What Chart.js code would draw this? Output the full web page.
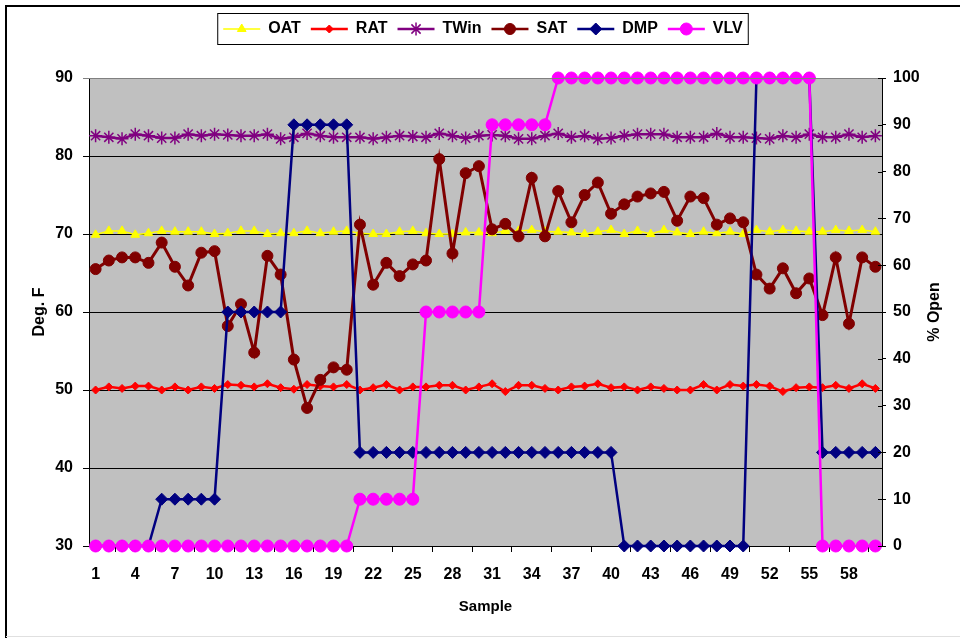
<!DOCTYPE html>
<html>
<head>
<meta charset="utf-8">
<script src="https://cdn.jsdelivr.net/npm/chart.js@4.4.0/dist/chart.umd.min.js"></script>
<style>
html, body { margin: 0; padding: 0; background: #fff; }
#wrap { width: 960px; height: 638px; }
</style>
</head>
<body>
<div id="wrap"><canvas id="myChart" width="960" height="638"></canvas></div>
<script>
// categories
const samples = ['1','2','3','4','5','6','7','8','9','10','11','12','13','14','15','16','17','18','19','20',
    '21','22','23','24','25','26','27','28','29','30','31','32','33','34','35','36','37','38','39','40',
    '41','42','43','44','45','46','47','48','49','50','51','52','53','54','55','56','57','58','59','60'];
const shownTicks = ['1','4','7','10','13','16','19','22','25','28','31','34','37','40','43','46','49','52','55','58'];

// temperatures (Deg. F, left axis)
const oat = [69.9,70.4,70.4,69.9,70.1,70.4,70.3,70.3,70.3,70.0, 70.1,70.4,70.4,70.0,70.1,70.1,70.4,70.1,70.3,70.4,
    70.1,70.0,70.0,70.3,70.4,70.1,70.0,70.0,70.2,70.2, 70.1,70.4,70.4,70.5,70.3,70.3,70.2,70.0,70.3,70.5,
    70.0,70.4,70.0,70.5,70.2,70.0,70.3,70.1,70.3,70.0, 70.5,70.3,70.5,70.4,70.3,70.3,70.5,70.4,70.5,70.3];
const rat = [50.0,50.4,50.2,50.5,50.5,50.0,50.4,50.0,50.4,50.2, 50.7,50.6,50.4,50.8,50.3,50.1,50.7,50.5,50.4,50.7,
    50.0,50.3,50.7,50.0,50.4,50.4,50.6,50.6,50.0,50.4, 50.8,49.8,50.6,50.6,50.2,50.0,50.4,50.5,50.8,50.3,
    50.4,50.0,50.4,50.2,50.0,50.0,50.7,50.0,50.7,50.5, 50.7,50.5,49.8,50.3,50.4,50.3,50.6,50.2,50.8,50.2];
const twin = [82.6,82.4,82.2,82.8,82.6,82.3,82.3,82.8,82.6,82.8, 82.7,82.6,82.6,82.8,82.2,82.4,82.9,82.6,82.4,82.4,
    82.4,82.2,82.4,82.6,82.5,82.4,82.9,82.6,82.3,82.6, 82.7,82.6,82.2,82.2,82.6,82.9,82.4,82.6,82.2,82.3,
    82.6,82.8,82.8,82.8,82.4,82.4,82.4,82.9,82.4,82.4, 82.3,82.2,82.6,82.4,82.8,82.4,82.4,82.8,82.4,82.6];
const sat = [65.5,66.6,67.0,67.0,66.3,68.9,65.8,63.4,67.6,67.8, 58.2,61.0,54.8,67.2,64.8,53.9,47.7,51.3,52.9,52.6,
    71.2,63.5,66.3,64.6,66.1,66.6,79.6,67.5,77.8,78.7, 70.6,71.3,69.7,77.2,69.7,75.5,71.5,75.0,76.6,72.6,
    73.8,74.8,75.2,75.4,71.7,74.8,74.6,71.2,72.0,71.5, 64.8,63.0,65.6,62.4,64.3,59.6,67.0,58.5,67.0,65.8];

// positions (% Open, right axis)
const dmp = [0,0,0,0,0,10,10,10,10,10, 50,50,50,50,50,90,90,90,90,90,
    20,20,20,20,20,20,20,20,20,20, 20,20,20,20,20,20,20,20,20,20,
    0,0,0,0,0,0,0,0,0,0, 100,100,100,100,100,20,20,20,20,20];
const vlv = [0,0,0,0,0,0,0,0,0,0, 0,0,0,0,0,0,0,0,0,0,
    10,10,10,10,10,50,50,50,50,50, 90,90,90,90,90,100,100,100,100,100,
    100,100,100,100,100,100,100,100,100,100, 100,100,100,100,100,0,0,0,0,0];

Chart.defaults.font.family = '"Liberation Sans", Arial, sans-serif';
Chart.defaults.font.weight = 'bold';
Chart.defaults.font.size = 16;
Chart.defaults.color = '#000';

function series(label, data, color, style, radius, width, axis, order, mw) {
    return {
        label: label, data: data, yAxisID: axis, order: order,
        borderColor: color, backgroundColor: color, borderWidth: width,
        pointStyle: style, pointRadius: radius, pointHoverRadius: radius,
        pointBackgroundColor: color, pointBorderColor: color, pointBorderWidth: mw || 1,
        tension: 0, clip: false
    };
}

// background, frame, legend box and right title
const deco = {
    id: 'deco',
    afterInit(chart) {
        const lg = chart.legend;
        const fit = lg.fit.bind(lg);
        lg.fit = function () { fit(); this.height = 67; };
    },
    beforeDraw(chart) {
        const { ctx, chartArea: a } = chart;
        ctx.save();
        ctx.fillStyle = '#fff';
        ctx.fillRect(0, 0, chart.width, chart.height);
        ctx.fillStyle = '#c0c0c0';
        ctx.fillRect(a.left, a.top, a.right - a.left, a.bottom - a.top);
        ctx.restore();
    },
    afterDraw(chart) {
        const { ctx, chartArea: a } = chart;
        ctx.save();
        // outer frame
        ctx.strokeStyle = '#000';
        ctx.lineWidth = 2;
        ctx.beginPath();
        ctx.moveTo(6, 638); ctx.lineTo(6, 6); ctx.lineTo(960, 6);
        ctx.stroke();
        ctx.strokeStyle = '#e0e0e0';
        ctx.lineWidth = 1;
        ctx.beginPath(); ctx.moveTo(6, 636.5); ctx.lineTo(960, 636.5); ctx.stroke();
        // plot top border
        ctx.strokeStyle = '#808080';
        ctx.beginPath(); ctx.moveTo(a.left, a.top + 0.5); ctx.lineTo(a.right, a.top + 0.5); ctx.stroke();
        // inner half of right ticks
        const y1 = chart.scales.y1;
        ctx.strokeStyle = '#000';
        y1.ticks.forEach(t => {
            const py = Math.round(y1.getPixelForValue(t.value)) + 0.5;
            ctx.beginPath(); ctx.moveTo(a.right - 4, py); ctx.lineTo(a.right, py); ctx.stroke();
        });
        // legend samples
        const boxes = chart.legend.legendHitBoxes;
        const bw = chart.legend.options.labels.boxWidth;
        boxes.forEach((b, i) => {
            const ds = chart.data.datasets[i];
            const cy = b.top + b.height / 2;
            ctx.strokeStyle = ds.borderColor;
            ctx.lineWidth = Math.min(ds.borderWidth, 2.5);
            ctx.beginPath(); ctx.moveTo(b.left, cy); ctx.lineTo(b.left + bw, cy); ctx.stroke();
            ctx.fillStyle = ds.backgroundColor;
            ctx.lineWidth = ds.pointBorderWidth;
            Chart.helpers.drawPoint(ctx, { pointStyle: ds.pointStyle, rotation: 0, radius: ds.pointRadius, borderWidth: ds.pointBorderWidth }, b.left + bw / 2, cy);
        });
        if (boxes.length) {
            const f = boxes[0], l = boxes[boxes.length - 1];
            const cy = f.top + f.height / 2;
            ctx.strokeStyle = '#000';
            ctx.lineWidth = 1;
            ctx.strokeRect(f.left - 5.5, cy - 15.5, l.left + l.width - f.left + 11, 31);
        }
        // right axis title
        ctx.fillStyle = '#000';
        ctx.font = 'bold 16px "Liberation Sans", Arial, sans-serif';
        ctx.textAlign = 'center';
        ctx.textBaseline = 'middle';
        ctx.translate(935, (a.top + a.bottom) / 2);
        ctx.rotate(-Math.PI / 2);
        ctx.fillText('% Open', 0, 0);
        ctx.restore();
    }
};

const data = {
    labels: samples,
    datasets: [
        series('OAT', oat, '#ffff00', 'triangle', 5, 1.5, 'y', 6),
        series('RAT', rat, '#ff0000', 'rectRot', 4, 2.5, 'y', 5),
        series('TWin', twin, '#800080', 'star', 6.5, 2.5, 'y', 4, 1.5),
        series('SAT', sat, '#800000', 'circle', 5.5, 3, 'y', 3),
        series('DMP', dmp, '#000080', 'rectRot', 6, 2.5, 'y1', 2),
        series('VLV', vlv, '#ff00ff', 'circle', 6, 2.5, 'y1', 1)
    ]
};

const config = {
    type: 'line',
    data,
    options: {
        responsive: false,
        animation: false,
        layout: { padding: { left: 6, top: 11, right: 0, bottom: 0 } },
        plugins: {
            tooltip: { enabled: false },
            legend: {
                position: 'top',
                labels: {
                    boxWidth: 37,
                    padding: 10,
                    font: { size: 16, weight: 'bold' },
                    generateLabels: (chart) => chart.data.datasets.map((ds, i) => ({
                        text: ds.label, datasetIndex: i, hidden: false,
                        fillStyle: 'rgba(0,0,0,0)', strokeStyle: 'rgba(0,0,0,0)', lineWidth: 0, fontColor: '#000'
                    }))
                }
            }
        },
        scales: {
            x: {
                offset: true,
                grid: { offset: true, drawOnChartArea: false, color: '#000', tickLength: 6 },
                border: { color: '#000' },
                ticks: {
                    autoSkip: false, maxRotation: 0, padding: 13,
                    callback: function (v, i) {
                        const lab = samples[i];
                        return shownTicks.includes(lab) ? lab : null;
                    }
                },
                title: { display: true, text: 'Sample', font: { size: 15, weight: 'bold' }, padding: { top: 0, bottom: 22 } },
                afterFit: (s) => { s.height = 92; }
            },
            y: {
                position: 'left',
                min: 30, max: 90,
                ticks: { stepSize: 10, padding: 10 },
                grid: { color: (c) => c.tick && c.tick.value === 90 ? '#808080' : '#000', tickLength: 6 },
                border: { color: '#000' },
                title: { display: true, text: 'Deg. F', padding: { top: 24, bottom: 0 } },
                afterFit: (s) => { s.width = 83; }
            },
            y1: {
                position: 'right',
                min: 0, max: 100,
                ticks: { stepSize: 10, padding: 7 },
                grid: { drawOnChartArea: false, color: '#000', tickLength: 4 },
                border: { color: '#000' },
                afterFit: (s) => { s.width = 78; }
            }
        }
    },
    plugins: [deco]
};

const myChart = new Chart(document.getElementById('myChart'), config);
</script>
</body>
</html>
